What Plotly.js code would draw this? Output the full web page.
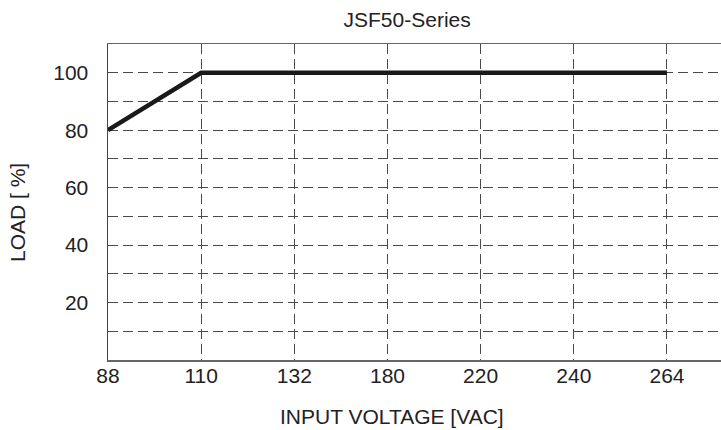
<!DOCTYPE html>
<html>
<head>
<meta charset="utf-8">
<script src="https://cdn.plot.ly/plotly-3.0.1.min.js"></script>
<style>
  html, body { margin: 0; padding: 0; background: #fff; }
  #chart { width: 721px; height: 430px; }
</style>
</head>
<body>
<div id="chart"></div>
<script>
// Data
const voltageCategories = ['88', '110', '132', '180', '220', '240', '264'];
const curveVoltage = ['88', '110', '264'];
const curveLoad = [80, 100, 100];
const loadTickValues = [0, 10, 20, 30, 40, 50, 60, 70, 80, 90, 100, 110];
const loadTickLabels = ['', '', '20', '', '40', '', '60', '', '80', '', '100', ''];

const FONT = '"Liberation Sans", Arial, sans-serif';
const TXT = '#222';

const trace = {
  type: 'scatter',
  mode: 'lines',
  x: curveVoltage,
  y: curveLoad,
  line: { color: '#1a1a1a', width: 4.5 },
  hoverinfo: 'skip',
  showlegend: false
};

const layout = {
  width: 721,
  height: 430,
  margin: { l: 108, r: 0, t: 44, b: 70 },
  paper_bgcolor: '#fff',
  plot_bgcolor: '#fff',
  font: { family: FONT, color: TXT },
  title: {
    text: 'JSF50-Series',
    font: { family: FONT, size: 21, color: TXT },
    x: 0.488, xref: 'paper', xanchor: 'center',
    y: 1 - 20 / 430, yref: 'container', yanchor: 'middle'
  },
  xaxis: {
    type: 'category',
    categoryorder: 'array',
    categoryarray: voltageCategories,
    range: [0, 6.58],
    showgrid: true,
    gridcolor: '#4a4a4a',
    gridwidth: 1,
    griddash: '10px,5px',
    showline: true,
    linecolor: '#666',
    linewidth: 1.5,
    mirror: true,
    ticks: '',
    ticklabelstandoff: -4,
    tickfont: { family: FONT, size: 21, color: TXT },
    zeroline: false,
    fixedrange: true
  },
  yaxis: {
    range: [0, 110],
    tickmode: 'array',
    tickvals: loadTickValues,
    ticktext: loadTickLabels,
    showgrid: true,
    gridcolor: '#4a4a4a',
    gridwidth: 1,
    griddash: '10px,5px',
    showline: true,
    linecolor: '#444',
    linewidth: 1.5,
    ticks: '',
    ticklabelstandoff: 14,
    tickfont: { family: FONT, size: 21, color: TXT },
    zeroline: false,
    fixedrange: true
  },
  annotations: [
    {
      text: 'INPUT VOLTAGE [VAC]',
      xref: 'paper', yref: 'paper',
      x: (392 - 108) / 613, y: -(416 - 360) / 316,
      xanchor: 'center', yanchor: 'middle',
      showarrow: false,
      font: { family: FONT, size: 21, color: TXT }
    },
    {
      text: 'LOAD [ %]',
      xref: 'paper', yref: 'paper',
      x: -(108 - 17) / 613, y: (360 - 213) / 316,
      xanchor: 'center', yanchor: 'middle',
      textangle: -90,
      showarrow: false,
      font: { family: FONT, size: 21, color: TXT }
    }
  ]
};

Plotly.newPlot('chart', [trace], layout, { displayModeBar: false, staticPlot: true });
</script>
</body>
</html>
